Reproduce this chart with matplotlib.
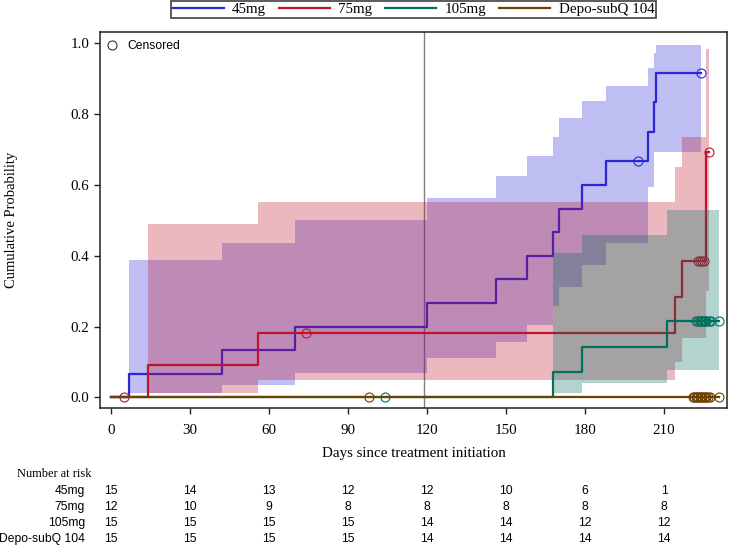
import matplotlib
matplotlib.use('Agg')
import matplotlib.pyplot as plt
from matplotlib.lines import Line2D
from matplotlib import transforms

SERIF = ['Liberation Serif', 'DejaVu Serif']
SANS = ['Liberation Sans', 'DejaVu Sans']

groups = ['45mg', '75mg', '105mg', 'Depo-subQ 104']
colors = ['#2828D4', '#C0142C', '#00705F', '#704000']

# ---- 45mg ----
t45 = [0, 7, 42, 70, 120, 146, 158, 168, 170, 179, 188, 204, 206, 207, 224]
p45 = [0, 0.0667, 0.1333, 0.2, 0.2667, 0.3333, 0.4, 0.4667, 0.5333, 0.6, 0.6667,
       0.75, 0.8333, 0.9167, 0.9167]
bt45 = [7, 42, 70, 120, 146, 158, 168, 170, 179, 188, 204, 206, 207, 224]
hi45 = [0.388, 0.435, 0.50, 0.562, 0.625, 0.683, 0.736, 0.788, 0.837, 0.879,
        0.931, 0.972, 0.995, 0.995]
lo45 = [0.011, 0.035, 0.070, 0.110, 0.155, 0.204, 0.258, 0.312, 0.374, 0.435,
        0.595, 0.694, 0.694, 0.694]
ct45 = [200, 224]
cp45 = [0.6667, 0.9167]

# ---- 75mg ----
t75 = [0, 14, 56, 214, 217, 226, 227]
p75 = [0, 0.0909, 0.1818, 0.2841, 0.3864, 0.6932, 0.6932]
bt75 = [14, 56, 214, 217, 226, 227]
hi75 = [0.491, 0.553, 0.651, 0.736, 0.984, 0.984]
lo75 = [0.013, 0.049, 0.100, 0.167, 0.300, 0.300]
ct75 = [5, 74, 223, 223.7, 224.3, 225, 227]
cp75 = [0, 0.1818, 0.3864, 0.3864, 0.3864, 0.3864, 0.6932]

# ---- 105mg ----
t105 = [0, 168, 179, 211, 231]
p105 = [0, 0.0714, 0.1429, 0.2143, 0.2143]
bt105 = [168, 179, 211, 231]
hi105 = [0.407, 0.458, 0.528, 0.528]
lo105 = [0.011, 0.040, 0.077, 0.077]
ct105 = [104, 222, 223, 223.5, 224, 224.5, 225, 225.5, 226, 227, 228, 231]
cp105 = [0] + [0.2143] * 11

# ---- Depo-subQ 104 ----
tdepo = [0, 231]
pdepo = [0, 0]
ctdepo = [98, 221, 221.5, 222, 222.5, 223, 223.5, 224, 224.5, 225, 225.5, 226,
          226.5, 227.5, 231]
cpdepo = [0] * 15

# ---- number at risk ----
risk_times = [0, 30, 60, 90, 120, 150, 180, 210]
risk_45 = [15, 14, 13, 12, 12, 10, 6, 1]
risk_75 = [12, 10, 9, 8, 8, 8, 8, 8]
risk_105 = [15, 15, 15, 15, 14, 14, 12, 12]
risk_depo = [15, 15, 15, 15, 14, 14, 14, 14]

ref_day = 119

W, H = 729, 545
fig = plt.figure(figsize=(W / 100, H / 100), dpi=100)
ax = fig.add_axes([100 / W, 1 - 408 / H, 627 / W, 376 / H])

series = [
    (t45, p45, bt45, lo45, hi45, ct45, cp45),
    (t75, p75, bt75, lo75, hi75, ct75, cp75),
    (t105, p105, bt105, lo105, hi105, ct105, cp105),
    (tdepo, pdepo, None, None, None, ctdepo, cpdepo),
]

ax.axvline(ref_day, color='#808080', lw=1.0, zorder=1)

z = 2
for (t, p, bt, lo, hi, ct, cp), c in zip(series, colors):
    if bt is not None:
        ax.fill_between(bt, lo, hi, step='post', color=c, alpha=0.3,
                        linewidth=0, zorder=z)
    ax.step(t, p, where='post', color=c, lw=1.6, zorder=z + 0.5)
    ax.plot(ct, cp, 'o', mfc='none', mec=c, ms=6.5, mew=0.8,
            linestyle='none', zorder=z + 0.6)
    z += 1

ax.set_xlim(-4.18, 233.9)
ax.set_ylim(-0.0302, 1.032)
ax.set_xticks(risk_times)
ax.set_yticks([0, 0.2, 0.4, 0.6, 0.8, 1.0])
ax.set_yticklabels(['0.0', '0.2', '0.4', '0.6', '0.8', '1.0'])
for sp in ax.spines.values():
    sp.set_linewidth(1.1)
    sp.set_color('#222222')
ax.tick_params(axis='both', direction='out', length=4.3, width=1.0,
               color='#222222', labelsize=10.8)
ax.tick_params(axis='x', pad=7.5)
ax.tick_params(axis='y', pad=3.5)
for lab in ax.get_xticklabels() + ax.get_yticklabels():
    lab.set_family(SERIF)

ax.set_xlabel('Days since treatment initiation', family=SERIF, fontsize=10.8)
ax.xaxis.set_label_coords(0.5, -0.103)
ax.set_ylabel('Cumulative Probability', family=SERIF, fontsize=10.5)
ax.yaxis.set_label_coords(-0.131, 0.5)

# Censored key inside axes
cens = Line2D([], [], marker='o', mfc='none', mec='#333333', ms=6.5, mew=0.8,
              linestyle='none')
leg_in = ax.legend([cens], ['Censored'], loc='upper left', frameon=False,
                   borderaxespad=0.3, borderpad=0.4, handlelength=0.6,
                   handletextpad=1.0, prop={'family': SANS, 'size': 8.7})

# Top legend
handles = [Line2D([], [], color=c, lw=1.6) for c in colors]
fig.legend(handles, groups, loc='upper center',
           bbox_to_anchor=(413.5 / W, 1 - 1 / H), ncol=4, frameon=True,
           fancybox=False, edgecolor='#222222', borderaxespad=0,
           borderpad=0.1, handlelength=3.4, handletextpad=0.55,
           columnspacing=0.87, prop={'family': SERIF, 'size': 10.8})
fig.legends[0].get_frame().set_linewidth(1.3)

# Number at risk table
trans = transforms.blended_transform_factory(ax.transData, fig.transFigure)
fig.text(16.7 / W, 1 - 474 / H, 'Number at risk', family=SERIF, fontsize=8.9,
         ha='left', va='center')
row_y = [491, 506.7, 523.3, 539]
for name, vals, yy in zip(groups, [risk_45, risk_75, risk_105, risk_depo], row_y):
    fig.text(85 / W, 1 - yy / H, name, family=SANS, fontsize=8.7,
             ha='right', va='center')
    for xt, v in zip(risk_times, vals):
        ax.text(xt, 1 - yy / H, str(v), transform=trans, family=SANS,
                fontsize=8.7, ha='center', va='center', clip_on=False)

fig.savefig('out.png', dpi=100)
